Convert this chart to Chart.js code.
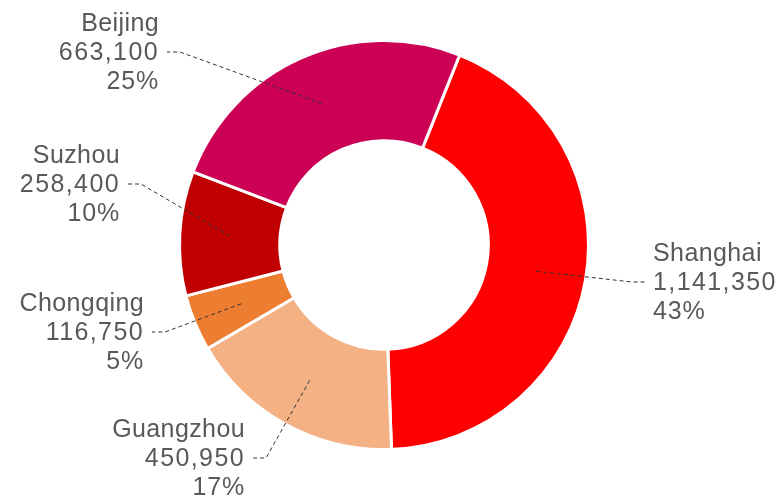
<!DOCTYPE html>
<html>
<head>
<meta charset="utf-8">
<script src="https://cdn.jsdelivr.net/npm/chart.js@4/dist/chart.umd.min.js"></script>
<style>
  html, body { margin: 0; padding: 0; background: #fff; }
  #wrap { width: 781px; height: 501px; position: relative; }
</style>
</head>
<body>
<div id="wrap"><canvas id="donut"></canvas></div>
<script>
  // data
  const cities = ["Shanghai", "Guangzhou", "Chongqing", "Suzhou", "Beijing"];
  const amounts = [1141350, 450950, 116750, 258400, 663100];
  const shareLabels = ["43%", "17%", "5%", "10%", "25%"];
  const sliceColors = ["#FF0000", "#F4B183", "#ED7D31", "#C00000", "#CC0055"];

  // label anchor (end of leader line), relative to the ring centre
  const labelAnchors = [[261, 37], [-131, 213], [-232, 87], [-256, -61], [-217, -193]];

  const fmt = (n) => n.toLocaleString("en-US");

  const calloutPlugin = {
    id: "callouts",
    afterDatasetsDraw(chart) {
      const ctx = chart.ctx;
      const arcs = chart.getDatasetMeta(0).data;
      ctx.save();
      ctx.font = "25px 'Liberation Sans', Arial, sans-serif";
      ctx.textBaseline = "middle";
      arcs.forEach((arc, i) => {
        const { x, y } = arc.getProps(["x", "y"], true);
        const inner = arc.getCenterPoint();
        const ax = x + labelAnchors[i][0];
        const ay = y + labelAnchors[i][1];
        const right = ax > x;
        const elbowX = right ? ax - 13 : ax + 13;

        ctx.strokeStyle = "#333";
        ctx.lineWidth = 1;
        ctx.setLineDash([4, 3]);
        ctx.beginPath();
        ctx.moveTo(inner.x, inner.y);
        ctx.lineTo(elbowX, ay);
        ctx.lineTo(ax, ay);
        ctx.stroke();
        ctx.setLineDash([]);

        ctx.fillStyle = "#595959";
        ctx.textAlign = right ? "left" : "right";
        const tx = right ? ax + 8 : ax - 8;
        const lines = [cities[i], fmt(amounts[i]), shareLabels[i]];
        const spacing = ["0.4px", "1.4px", "0.8px"];
        lines.forEach((t, k) => {
          ctx.letterSpacing = spacing[k];
          ctx.fillText(t, tx, ay + (k - 1) * 29 + 1);
        });
      });
      ctx.restore();
    },
  };

  new Chart(document.getElementById("donut"), {
    type: "doughnut",
    data: {
      labels: cities,
      datasets: [{
        data: amounts,
        backgroundColor: sliceColors,
        borderColor: "#ffffff",
        borderWidth: 3,
        hoverOffset: 0,
      }],
    },
    options: {
      responsive: true,
      maintainAspectRatio: false,
      animation: false,
      rotation: 21.7,
      cutout: "51%",
      layout: { padding: { top: 39, bottom: 50, left: 100, right: 113 } },
      plugins: {
        legend: { display: false },
        tooltip: { enabled: false },
      },
    },
    plugins: [calloutPlugin],
  });
</script>
</body>
</html>
